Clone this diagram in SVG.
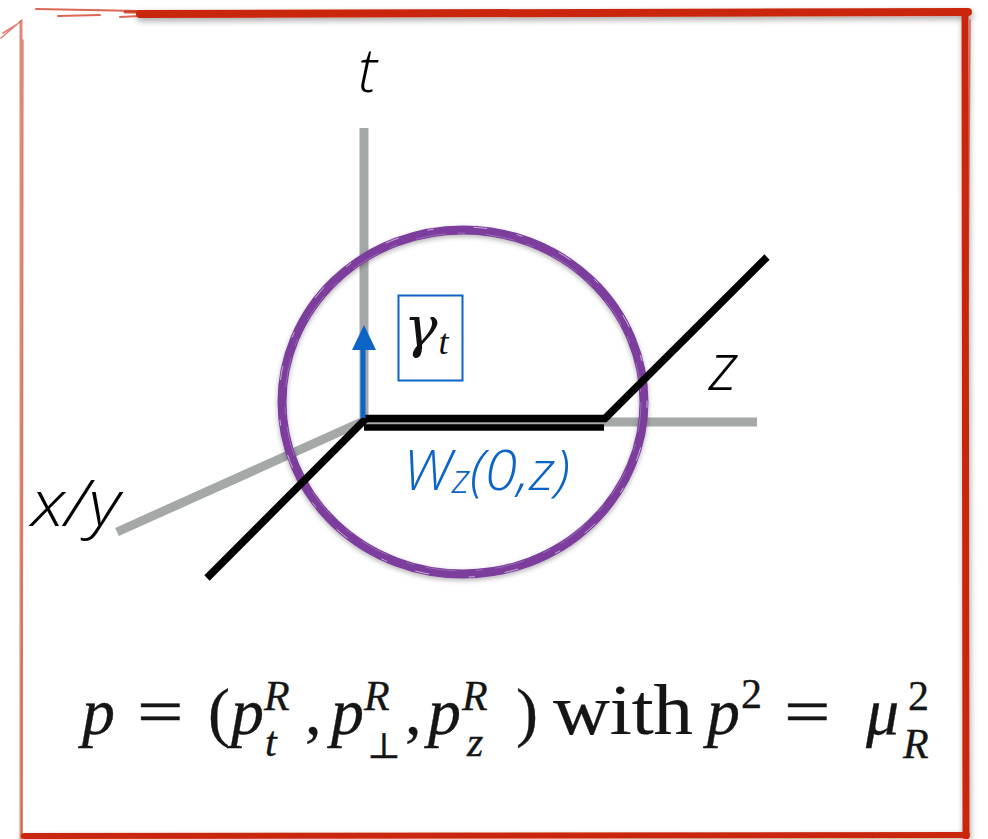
<svg xmlns="http://www.w3.org/2000/svg" width="988" height="839" viewBox="0 0 988 839">
<defs>
<filter id="sh" x="-10%" y="-10%" width="120%" height="120%">
<feDropShadow dx="1" dy="3" stdDeviation="3" flood-color="#000" flood-opacity="0.35"/>
</filter>
<filter id="sh2" x="-10%" y="-10%" width="120%" height="120%">
<feDropShadow dx="0" dy="2" stdDeviation="2.5" flood-color="#000" flood-opacity="0.3"/>
</filter>
<style>
.frame{fill:none;stroke:#c9280b;stroke-linecap:round}
.axis{fill:none;stroke:#a4a8a6;stroke-width:9;stroke-linecap:butt}
.wire{fill:none;stroke:#000;stroke-linecap:butt;stroke-linejoin:miter}
.lab{font-family:"Open Sans","DejaVu Sans",sans-serif;font-style:italic;font-weight:300;fill:#000}
.math{font-family:"Liberation Serif","DejaVu Serif",serif;fill:#151515;stroke:#151515;stroke-width:0.35}
.mi{font-style:italic}
.sc{font-size:42px}
</style>
</defs>
<rect width="988" height="839" fill="#fff"/>
<g id="frame">
<g filter="url(#sh)">
<path class="frame" d="M140 14 L968 12" stroke-width="8"/>
<path class="frame" d="M965 12 L966 836" stroke-width="7"/>
<path class="frame" d="M24 836 L967 835" stroke-width="6"/>
</g>
<path class="frame" d="M36 9 L140 11 M58 16 L100 15 M120 17 L200 13" stroke-width="2" opacity="0.7"/>
<path class="frame" d="M125 12 L300 13" stroke-width="3" opacity="0.8"/>
<path class="frame" d="M21 22 L21 838" stroke-width="3" opacity="0.55"/>
<path class="frame" d="M23 40 L22 836" stroke-width="1.5" opacity="0.5"/>
<path class="frame" d="M1 38 L22 20 M3 33 L16 25" stroke-width="1.5" opacity="0.6"/>
<path class="frame" d="M920 9 L966 11 M970 20 L968 300" stroke-width="1.5" opacity="0.6"/>
</g>
<g id="axes">
<line class="axis" x1="364" y1="128" x2="364" y2="421"/>
<line class="axis" x1="364" y1="422" x2="757" y2="422"/>
<line class="axis" x1="366" y1="420" x2="117" y2="532"/>
</g>
<g id="circle">
<ellipse cx="463" cy="402" rx="181" ry="172" fill="none" stroke="#7b3d9c" stroke-width="9" filter="url(#sh2)"/>
<ellipse cx="463" cy="402" rx="178" ry="169" fill="none" stroke="#a57ec0" stroke-width="1" stroke-dasharray="30 12 8 20" opacity="0.7"/>
<ellipse cx="463" cy="402" rx="184" ry="175" fill="none" stroke="#fff" stroke-width="1" stroke-dasharray="6 40 14 30" opacity="0.6"/>
</g>
<g id="wilson-line">
<polyline class="wire" points="207,578 366,418.5 605,418.5 767,257" stroke-width="7.5"/>
<line class="wire" x1="364" y1="427.5" x2="604" y2="427.5" stroke-width="6.5"/>
</g>
<g id="gamma">
<line x1="363" y1="418" x2="363" y2="348" stroke="#0b64c6" stroke-width="5"/>
<polygon points="364,325 352,350 376,350" fill="#0b64c6"/>
<rect x="398.5" y="295.5" width="64" height="85" fill="none" stroke="#0b64c6" stroke-width="2"/>
<text x="404" y="346" font-family="'DejaVu Serif',serif" font-style="italic" font-size="56" fill="#111">γ<tspan font-family="'Liberation Serif',serif" font-size="36" dx="1" dy="8">t</tspan></text>
</g>
<g id="labels">
<text class="lab" x="358" y="92" font-size="60">t</text>
<text class="lab" x="709" y="390" font-size="66">z</text>
<text class="lab" x="31" y="526" font-size="64" textLength="89" lengthAdjust="spacingAndGlyphs">x/y</text>
<text class="lab" x="403" y="490" font-size="56" style="fill:#0b64c6" textLength="167" lengthAdjust="spacingAndGlyphs">W<tspan font-size="40" dy="3">z</tspan><tspan dy="-3">(0,z)</tspan></text>
</g>
<g id="formula" class="math" font-size="66">
<text class="mi" x="82" y="734">p</text>
<text transform="translate(137,734) scale(1.25,1)" x="0" y="0">=</text>
<text x="208" y="734">(</text>
<text class="mi" x="231" y="734">p<tspan class="sc" x="264" y="710">R</tspan><tspan class="sc" x="265" y="756">t</tspan></text>
<text x="305" y="734">,</text>
<text class="mi" x="331" y="734">p<tspan class="sc" x="364" y="710">R</tspan><tspan font-style="normal" font-size="36" x="367" y="758">⊥</tspan></text>
<text x="405" y="734">,</text>
<text class="mi" x="428" y="734">p<tspan class="sc" x="462" y="710">R</tspan><tspan class="sc" x="467" y="756">z</tspan></text>
<text x="516" y="734">)</text>
<text x="553" y="734" font-size="72" textLength="140" lengthAdjust="spacingAndGlyphs" style="stroke-width:0.2">with</text>
<text class="mi" x="707" y="734">p<tspan class="sc" font-style="normal" x="741" y="708">2</tspan></text>
<text transform="translate(784,734) scale(1.25,1)" x="0" y="0">=</text>
<text class="mi" x="866" y="734">μ<tspan class="sc" font-style="normal" x="908" y="710">2</tspan><tspan class="sc" x="903" y="758">R</tspan></text>
</g>
</svg>
